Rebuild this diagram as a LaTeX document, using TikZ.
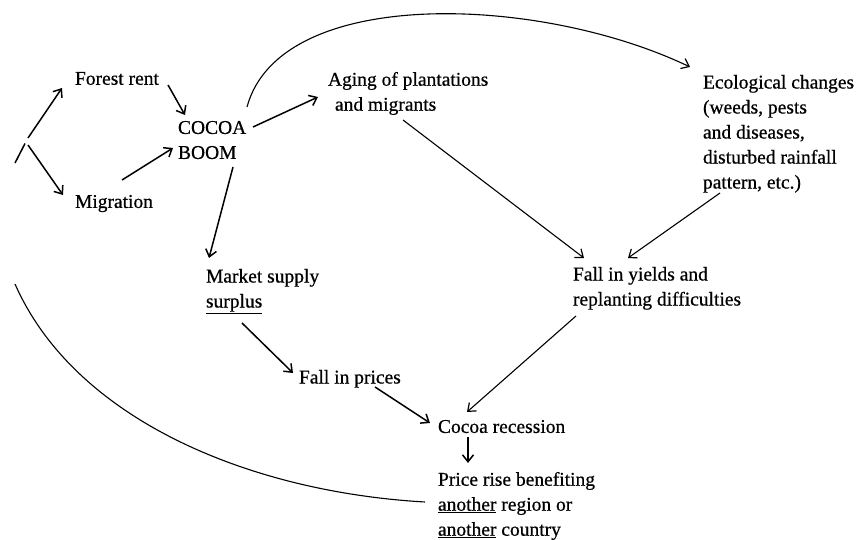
\documentclass[tikz,border=0pt]{standalone}
\usepackage{fontspec}
\setmainfont[FakeBold=0.6]{Liberation Serif}
\usetikzlibrary{arrows.meta}
\begin{document}
\begin{tikzpicture}[x=1pt,y=-1pt,
  lbl/.style={anchor=north west,inner sep=0pt,outer sep=0pt,align=left,
    font=\fontsize{19.5pt}{25pt}\selectfont},
  arr/.style={line width=1.5pt,-{Straight Barb[length=7pt,width=11pt,line width=1.5pt]}},
  thinarr/.style={line width=1.1pt,-{Straight Barb[length=7pt,width=11pt,line width=1.2pt]}},
  plain/.style={line width=1.1pt}]
\useasboundingbox (0,0) rectangle (857,540);
\node[lbl] (forest) at (75,72) {Forest rent};
\node[lbl] (migr) at (75,195) {Migration};
\node[lbl] (cocoa) at (178,121) {COCOA\\BOOM};
\node[lbl] (aging) at (328,72) {Aging of plantations\\\hspace*{7pt}and migrants};
\node[lbl] (eco) at (703,75) {Ecological changes\\(weeds, pests\\and diseases,\\disturbed rainfall\\pattern, etc.)};
\node[lbl] (yields) at (573,267) {Fall in yields and\\replanting difficulties};
\node[lbl] (market) at (206,269) {Market supply\\\underline{surplus}};
\node[lbl] (prices) at (299,370) {Fall in prices};
\node[lbl] (recess) at (438,420) {Cocoa recession};
\node[lbl] (price) at (438,472) {Price rise benefiting\\\underline{another} region or\\\underline{another} country};
\coordinate (fork) at (28,141);
\coordinate (slashlo) at (15,163);
\coordinate (slashhi) at (25,143.5);
\coordinate (loopstart) at (15,284);
% left fork
\draw[line width=1.5pt] (slashlo) -- (slashhi);
\draw[arr] ([shift={(0,-3)}]fork) -- ([shift={(-13,16)}]forest.north west);
\draw[arr] ([shift={(0,4)}]fork) -- ([shift={(-12,0)}]migr.north west);
% into and out of the boom
\draw[arr] ([shift={(93,13)}]forest.north west) -- ([shift={(7,-6)}]cocoa.north west);
\draw[arr] ([shift={(47,-15)}]migr.north west) -- ([shift={(-5,27)}]cocoa.north west);
\draw[arr] ([shift={(55,46)}]cocoa.north west) -- ([shift={(3,-11)}]market.north west);
\draw[arr] ([shift={(75,6)}]cocoa.north west) -- ([shift={(-10,25)}]aging.north west);
\draw[thinarr] ([shift={(69,-14)}]cocoa.north west) .. controls (280,-15) and (540,-5) .. ([shift={(-13,-8)}]eco.north west);
% right side
\draw[thinarr] ([shift={(75,48)}]aging.north west) -- ([shift={(11,-9)}]yields.north west);
\draw[thinarr] ([shift={(17,118)}]eco.north west) -- ([shift={(55,-9)}]yields.north west);
% lower chain
\draw[arr] ([shift={(36,54)}]market.north west) -- ([shift={(-6,3)}]prices.north west);
\draw[arr] ([shift={(76,17)}]prices.north west) -- ([shift={(-8,3)}]recess.north west);
\draw[thinarr] ([shift={(3,49)}]yields.north west) -- ([shift={(29,-8)}]recess.north west);
\draw[arr] ([shift={(30,17)}]recess.north west) -- ([shift={(30,-9)}]price.north west);
% loop back
\draw[plain] ([shift={(-13,30)}]price.north west) .. controls (250,492) and (75,420) .. (loopstart);
\end{tikzpicture}
\end{document}
